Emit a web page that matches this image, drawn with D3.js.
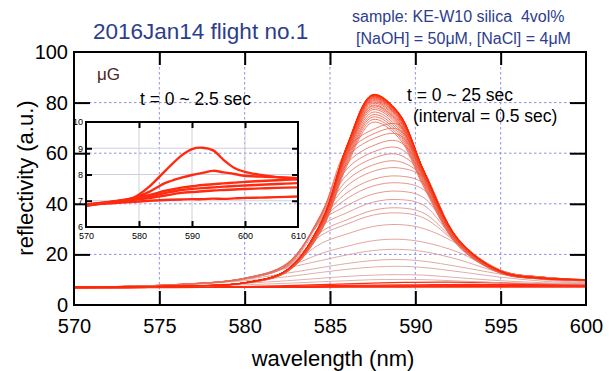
<!DOCTYPE html>
<html>
<head>
<meta charset="utf-8">
<script src="https://cdn.jsdelivr.net/npm/d3@7"></script>
<style>
  body { margin: 0; background: #fff; }
  svg { display: block; }
  text { font-family: "Liberation Sans", Arial, Helvetica, sans-serif; }
</style>
</head>
<body>
<svg id="chart" width="609" height="371"></svg>
<script>
// ---- data ----
// main spectra, t = 3.0 ... 25 sec (0.5 s steps)
const wavelengths = [570, 576, 580, 582.5, 584.5, 586, 587.5, 589, 590.5, 592.5, 595, 597.5, 600];
const times = [3, 3.5, 4, 4.5, 5, 5.5, 6, 6.5, 7, 7.5, 8, 8.5, 9, 9.5, 10, 10.5, 11, 11.5, 12, 12.5, 13,
  13.5, 14, 14.5, 15, 15.5, 16, 16.5, 17, 17.5, 18, 18.5, 19, 19.5, 20, 20.5, 21, 21.5, 22, 22.5, 23, 23.5, 24, 24.5, 25];
const spectra = [
  [7.0, 7.4, 8.0, 8.6, 9.2, 9.6, 10.0, 10.1, 10.0, 9.5, 8.8, 8.4, 8.2],
  [7.0, 7.6, 8.6, 9.6, 10.6, 11.3, 11.8, 12.0, 11.8, 10.8, 9.6, 8.8, 8.4],
  [7.0, 7.9, 9.6, 11.2, 12.9, 14.1, 15.0, 15.3, 14.8, 13.2, 11.0, 9.4, 8.6],
  [7.0, 8.0, 10.1, 12.6, 14.8, 16.4, 17.6, 18.0, 17.3, 15.2, 12.2, 10.0, 8.8],
  [7.0, 8.0, 10.2, 14.6, 17.6, 19.8, 21.5, 22.0, 21.1, 18.0, 12.8, 10.5, 9.2],
  [7.0, 8.0, 10.2, 15.0, 20.4, 23.2, 25.4, 26.0, 24.8, 20.9, 13.0, 10.6, 9.4],
  [7.0, 8.0, 10.3, 15.2, 24.4, 28.1, 31.0, 31.8, 30.2, 24.0, 13.1, 10.7, 9.6],
  [7.0, 8.0, 10.3, 15.3, 27.6, 32.0, 35.5, 36.4, 34.4, 24.2, 13.2, 10.7, 9.7],
  [7.0, 8.0, 10.3, 15.4, 29.0, 33.7, 37.4, 38.4, 36.3, 24.4, 13.3, 10.8, 9.7],
  [7.0, 8.0, 10.4, 15.5, 31.3, 36.5, 40.6, 41.7, 39.4, 24.6, 13.3, 10.8, 9.8],
  [7.0, 8.0, 10.4, 15.6, 33.2, 39.3, 43.8, 45.0, 42.4, 24.8, 13.4, 10.8, 9.8],
  [7.0, 8.0, 10.4, 15.7, 33.5, 42.1, 47.0, 48.3, 45.5, 25.0, 13.4, 10.9, 9.8],
  [7.0, 8.0, 10.4, 15.8, 34.0, 44.4, 49.6, 51.0, 48.0, 25.2, 13.5, 10.9, 9.9],
  [7.0, 8.0, 10.5, 15.9, 34.4, 47.1, 52.8, 54.2, 50.4, 25.4, 13.5, 10.9, 9.9],
  [7.0, 8.0, 10.5, 16.0, 34.8, 49.3, 55.3, 56.8, 50.5, 25.6, 13.6, 10.9, 9.9],
  [7.0, 8.1, 10.5, 16.1, 35.2, 51.6, 57.9, 59.5, 51.2, 25.8, 13.6, 11.0, 9.9],
  [7.0, 8.1, 10.5, 16.2, 35.5, 53.8, 60.4, 62.1, 51.8, 25.9, 13.6, 11.0, 10.0],
  [7.0, 8.1, 10.6, 16.3, 35.8, 56.0, 62.9, 64.7, 52.3, 26.0, 13.7, 11.0, 10.0],
  [7.0, 8.1, 10.6, 16.4, 36.0, 58.3, 65.6, 67.4, 52.7, 26.1, 13.7, 11.0, 10.0],
  [7.0, 8.1, 10.6, 16.5, 36.2, 60.0, 67.5, 69.4, 53.0, 26.2, 13.7, 11.0, 10.0],
  [7.0, 8.1, 10.6, 16.6, 36.2, 61.7, 69.3, 71.3, 53.2, 26.3, 13.8, 11.0, 10.0],
  [7.0, 7.45, 8.6, 13.1, 29.4, 55.1, 72.2, 66.3, 46.5, 23.4, 12.5, 10.2, 9.7],
  [7.0, 7.45, 8.6, 13.2, 29.7, 55.9, 73.3, 67.2, 47.2, 23.6, 12.6, 10.3, 9.7],
  [7.0, 7.45, 8.6, 13.2, 30.0, 56.6, 74.3, 68.1, 47.7, 23.9, 12.7, 10.3, 9.8],
  [7.0, 7.46, 8.6, 13.3, 30.4, 57.3, 75.2, 69.0, 48.3, 24.1, 12.7, 10.3, 9.8],
  [7.0, 7.47, 8.7, 13.4, 30.7, 58.1, 76.2, 69.9, 48.9, 24.4, 12.8, 10.4, 9.8],
  [7.0, 7.47, 8.7, 13.5, 31.0, 58.8, 77.2, 70.8, 49.5, 24.6, 12.9, 10.4, 9.8],
  [7.0, 7.48, 8.7, 13.6, 31.3, 59.3, 77.9, 71.5, 50.0, 24.8, 12.9, 10.4, 9.9],
  [7.0, 7.48, 8.7, 13.6, 31.5, 59.8, 78.6, 72.0, 50.3, 24.9, 13.0, 10.4, 9.9],
  [7.0, 7.48, 8.7, 13.7, 31.6, 60.1, 79.0, 72.4, 50.6, 25.0, 13.0, 10.5, 9.9],
  [7.0, 7.48, 8.7, 13.7, 31.9, 60.6, 79.7, 73.0, 51.0, 25.2, 13.1, 10.5, 9.9],
  [7.0, 7.49, 8.7, 13.8, 32.1, 61.0, 80.2, 73.5, 51.3, 25.3, 13.1, 10.5, 9.9],
  [7.0, 7.49, 8.8, 13.8, 32.2, 61.4, 80.7, 74.0, 51.6, 25.5, 13.1, 10.5, 9.9],
  [7.0, 7.49, 8.8, 13.8, 32.4, 61.7, 81.1, 74.4, 51.9, 25.5, 13.2, 10.5, 10.0],
  [7.0, 7.49, 8.8, 13.9, 32.5, 62.0, 81.5, 74.7, 52.1, 25.6, 13.2, 10.5, 10.0],
  [7.0, 7.49, 8.8, 13.9, 32.6, 62.2, 81.8, 75.0, 52.3, 25.7, 13.2, 10.6, 10.0],
  [7.0, 7.5, 8.8, 13.9, 32.7, 62.4, 82.1, 75.2, 52.5, 25.8, 13.2, 10.6, 10.0],
  [7.0, 7.5, 8.8, 14.0, 32.8, 62.6, 82.3, 75.4, 52.6, 25.8, 13.2, 10.6, 10.0],
  [7.0, 7.5, 8.8, 14.0, 32.8, 62.7, 82.5, 75.6, 52.7, 25.9, 13.3, 10.6, 10.0],
  [7.0, 7.5, 8.8, 14.0, 32.9, 62.8, 82.7, 75.8, 52.8, 25.9, 13.3, 10.6, 10.0],
  [7.0, 7.5, 8.8, 14.0, 32.9, 62.9, 82.8, 75.8, 52.9, 25.9, 13.3, 10.6, 10.0],
  [7.0, 7.5, 8.8, 14.0, 33.0, 63.0, 82.9, 76.0, 52.9, 26.0, 13.3, 10.6, 10.0],
  [7.0, 7.5, 8.8, 14.0, 33.0, 63.0, 83.0, 76.1, 53.0, 26.0, 13.3, 10.6, 10.0],
  [7.0, 7.5, 8.8, 14.0, 33.0, 63.1, 83.1, 76.1, 53.0, 26.0, 13.3, 10.6, 10.0],
  [7.0, 7.5, 8.8, 14.0, 33.1, 63.2, 83.2, 76.3, 53.1, 26.1, 13.3, 10.6, 10.0]
];

// early spectra t = 0 ... 2.5 sec (shown in the inset, also in the main plot)
const insetWavelengths = [570, 573, 576, 579, 582, 585, 588, 590, 592, 594, 596, 598, 600, 603, 606, 610];
const insetTimes = [0, 0.5, 1, 1.5, 2, 2.5];
const insetSpectra = [
  [6.85, 6.88, 6.92, 6.96, 7.0, 7.03, 7.05, 7.06, 7.06, 7.08, 7.07, 7.09, 7.11, 7.12, 7.14, 7.16],
  [6.85, 6.9, 6.96, 7.03, 7.1, 7.2, 7.3, 7.33, 7.36, 7.39, 7.41, 7.43, 7.45, 7.47, 7.49, 7.51],
  [6.85, 6.92, 6.98, 7.06, 7.16, 7.3, 7.41, 7.45, 7.48, 7.51, 7.54, 7.56, 7.58, 7.61, 7.64, 7.67],
  [6.85, 6.93, 7.0, 7.1, 7.22, 7.38, 7.5, 7.55, 7.6, 7.63, 7.66, 7.69, 7.72, 7.75, 7.78, 7.82],
  [6.82, 6.9, 6.98, 7.1, 7.35, 7.68, 7.88, 7.98, 8.06, 8.14, 8.08, 8.02, 7.95, 7.92, 7.9, 7.86],
  [6.8, 6.9, 6.98, 7.12, 7.55, 8.15, 8.72, 8.97, 9.02, 8.92, 8.55, 8.25, 8.1, 7.98, 7.9, 7.82]
];

const xTicks = [570, 575, 580, 585, 590, 595, 600];
const yTicks = [0, 20, 40, 60, 80, 100];
const insetXTicks = [570, 580, 590, 600, 610];
const insetYTicks = [6, 7, 8, 9, 10];

// ---- layout ----
const svg = d3.select("#chart");
const plot = { left: 74, right: 586, top: 52, bottom: 305 };
const inset = { left: 86, right: 298, top: 122, bottom: 227 };

const x = d3.scaleLinear().domain([570, 600]).range([plot.left, plot.right]);
const y = d3.scaleLinear().domain([0, 100]).range([plot.bottom, plot.top]);
const ix = d3.scaleLinear().domain([570, 610]).range([inset.left, inset.right]);
const iy = d3.scaleLinear().domain([6, 10]).range([inset.bottom, inset.top]);

const defs = svg.append("defs");
defs.append("clipPath").attr("id", "clip-main").append("rect")
  .attr("x", plot.left).attr("y", plot.top)
  .attr("width", plot.right - plot.left).attr("height", plot.bottom - plot.top);
defs.append("clipPath").attr("id", "clip-inset").append("rect")
  .attr("x", inset.left).attr("y", inset.top)
  .attr("width", inset.right - inset.left).attr("height", inset.bottom - inset.top);

// dashed grid of the main plot
const grid = svg.append("g").attr("stroke", "#8f8fe0").attr("stroke-width", 1).attr("stroke-dasharray", "2.5,2.5");
grid.selectAll("line.v").data(xTicks.slice(1, -1)).join("line")
  .attr("x1", d => x(d)).attr("x2", d => x(d)).attr("y1", plot.top).attr("y2", plot.bottom);
grid.selectAll("line.h").data(yTicks.slice(1, -1)).join("line")
  .attr("y1", d => y(d)).attr("y2", d => y(d)).attr("x1", plot.left).attr("x2", plot.right);

// main curves
const color = d3.scaleLinear().domain([3, 25]).range(["#d6a4a0", "#ff2600"]).interpolate(d3.interpolateRgb);
const line = d3.line().curve(d3.curveCatmullRom.alpha(0.5));
const curves = svg.append("g").attr("clip-path", "url(#clip-main)").attr("fill", "none");

curves.selectAll("path.early").data(insetSpectra).join("path")
  .attr("stroke", "#ff2a10").attr("stroke-width", 1.3)
  .attr("d", s => line(s.map((v, i) => [x(insetWavelengths[i]), y(v)])));

curves.selectAll("path.spec").data(spectra).join("path")
  .attr("stroke", (s, i) => color(times[i]))
  .attr("stroke-width", 0.85)
  .attr("d", s => line(s.map((v, i) => [x(wavelengths[i]), y(v)])));

// frame
svg.append("rect").attr("x", plot.left).attr("y", plot.top)
  .attr("width", plot.right - plot.left).attr("height", plot.bottom - plot.top)
  .attr("fill", "none").attr("stroke", "#000").attr("stroke-width", 2);

// inward ticks
function ticksOnly(g) { g.select(".domain").remove(); g.selectAll("line").attr("stroke", "#000").attr("stroke-width", 2); }
const inner = xTicks.slice(1, -1), innerY = yTicks.slice(1, -1);
svg.append("g").attr("transform", `translate(0,${plot.bottom})`)
  .call(d3.axisTop(x).tickValues(inner).tickSize(14).tickFormat("")).call(ticksOnly);
svg.append("g").attr("transform", `translate(0,${plot.top})`)
  .call(d3.axisBottom(x).tickValues(inner).tickSize(13).tickFormat("")).call(ticksOnly);
svg.append("g").attr("transform", `translate(${plot.left},0)`)
  .call(d3.axisRight(y).tickValues(innerY).tickSize(16).tickFormat("")).call(ticksOnly);
svg.append("g").attr("transform", `translate(${plot.right},0)`)
  .call(d3.axisLeft(y).tickValues(innerY).tickSize(16).tickFormat("")).call(ticksOnly);

// tick labels
function labelsOnly(size) {
  return g => { g.select(".domain").remove(); g.selectAll("line").remove();
    g.selectAll("text").attr("font-size", size).attr("fill", "#000").attr("font-family", null); };
}
svg.append("g").attr("transform", `translate(0,${plot.bottom})`)
  .call(d3.axisBottom(x).tickValues(xTicks).tickSize(0).tickPadding(14)).call(labelsOnly(20));
svg.append("g").attr("transform", `translate(${plot.left},0)`)
  .call(d3.axisLeft(y).tickValues(yTicks).tickSize(0).tickPadding(6)).call(labelsOnly(20));

// axis titles
svg.append("text").attr("x", 333).attr("y", 366).attr("text-anchor", "middle")
  .attr("font-size", 22).text("wavelength (nm)");
svg.append("text").attr("transform", "translate(33,178) rotate(-90)").attr("text-anchor", "middle")
  .attr("font-size", 22).text("reflectivity (a.u.)");

// ---- inset ----
const ig = svg.append("g");
const igrid = ig.append("g").attr("stroke", "#cfcfdc").attr("stroke-width", 1);
igrid.selectAll("line.v").data(insetXTicks.slice(1, -1)).join("line")
  .attr("x1", d => ix(d)).attr("x2", d => ix(d)).attr("y1", inset.top).attr("y2", inset.bottom);
igrid.selectAll("line.h").data(insetYTicks.slice(1, -1)).join("line")
  .attr("y1", d => iy(d)).attr("y2", d => iy(d)).attr("x1", inset.left).attr("x2", inset.right);

ig.append("g").attr("clip-path", "url(#clip-inset)").attr("fill", "none")
  .selectAll("path").data(insetSpectra).join("path")
  .attr("stroke", "#ff2a10").attr("stroke-width", 2.4).attr("stroke-linejoin", "round")
  .attr("d", s => line(s.map((v, i) => [ix(insetWavelengths[i]), iy(v)])));

ig.append("rect").attr("x", inset.left).attr("y", inset.top)
  .attr("width", inset.right - inset.left).attr("height", inset.bottom - inset.top)
  .attr("fill", "none").attr("stroke", "#000").attr("stroke-width", 2);

const iInner = insetXTicks.slice(1, -1), iInnerY = insetYTicks.slice(1, -1);
ig.append("g").attr("transform", `translate(0,${inset.bottom})`)
  .call(d3.axisTop(ix).tickValues(iInner).tickSize(6).tickFormat("")).call(ticksOnly);
ig.append("g").attr("transform", `translate(0,${inset.top})`)
  .call(d3.axisBottom(ix).tickValues(iInner).tickSize(6).tickFormat("")).call(ticksOnly);
ig.append("g").attr("transform", `translate(${inset.left},0)`)
  .call(d3.axisRight(iy).tickValues(iInnerY).tickSize(6).tickFormat("")).call(ticksOnly);
ig.append("g").attr("transform", `translate(${inset.right},0)`)
  .call(d3.axisLeft(iy).tickValues(iInnerY).tickSize(6).tickFormat("")).call(ticksOnly);

ig.append("g").attr("transform", `translate(0,${inset.bottom})`)
  .call(d3.axisBottom(ix).tickValues(insetXTicks).tickFormat(d3.format("d")).tickSize(0).tickPadding(6)).call(labelsOnly(9));
ig.append("g").attr("transform", `translate(${inset.left},0)`)
  .call(d3.axisLeft(iy).tickValues(insetYTicks).tickFormat(d3.format("d")).tickSize(0).tickPadding(3)).call(labelsOnly(9));

// ---- annotations ----
svg.append("text").attr("x", 93).attr("y", 39).attr("font-size", 22.5).attr("fill", "#2d3d8d")
  .text("2016Jan14 flight no.1");
svg.append("text").attr("x", 352).attr("y", 22).attr("font-size", 16).attr("fill", "#2d3d8d")
  .attr("xml:space", "preserve").text("sample: KE-W10 silica  4vol%");
svg.append("text").attr("x", 356).attr("y", 44).attr("font-size", 16).attr("fill", "#2d3d8d")
  .text("[NaOH] = 50\u03bcM, [NaCl] = 4\u03bcM");
svg.append("text").attr("x", 97).attr("y", 80).attr("font-size", 17).attr("fill", "#4a2424").text("\u03bcG");
svg.append("text").attr("x", 140).attr("y", 105).attr("font-size", 17.5).text("t = 0 ~ 2.5 sec");
svg.append("text").attr("x", 407).attr("y", 101).attr("font-size", 17.5).text("t = 0 ~ 25 sec");
svg.append("text").attr("x", 413).attr("y", 122).attr("font-size", 17.5).text("(interval = 0.5 sec)");
</script>
</body>
</html>
